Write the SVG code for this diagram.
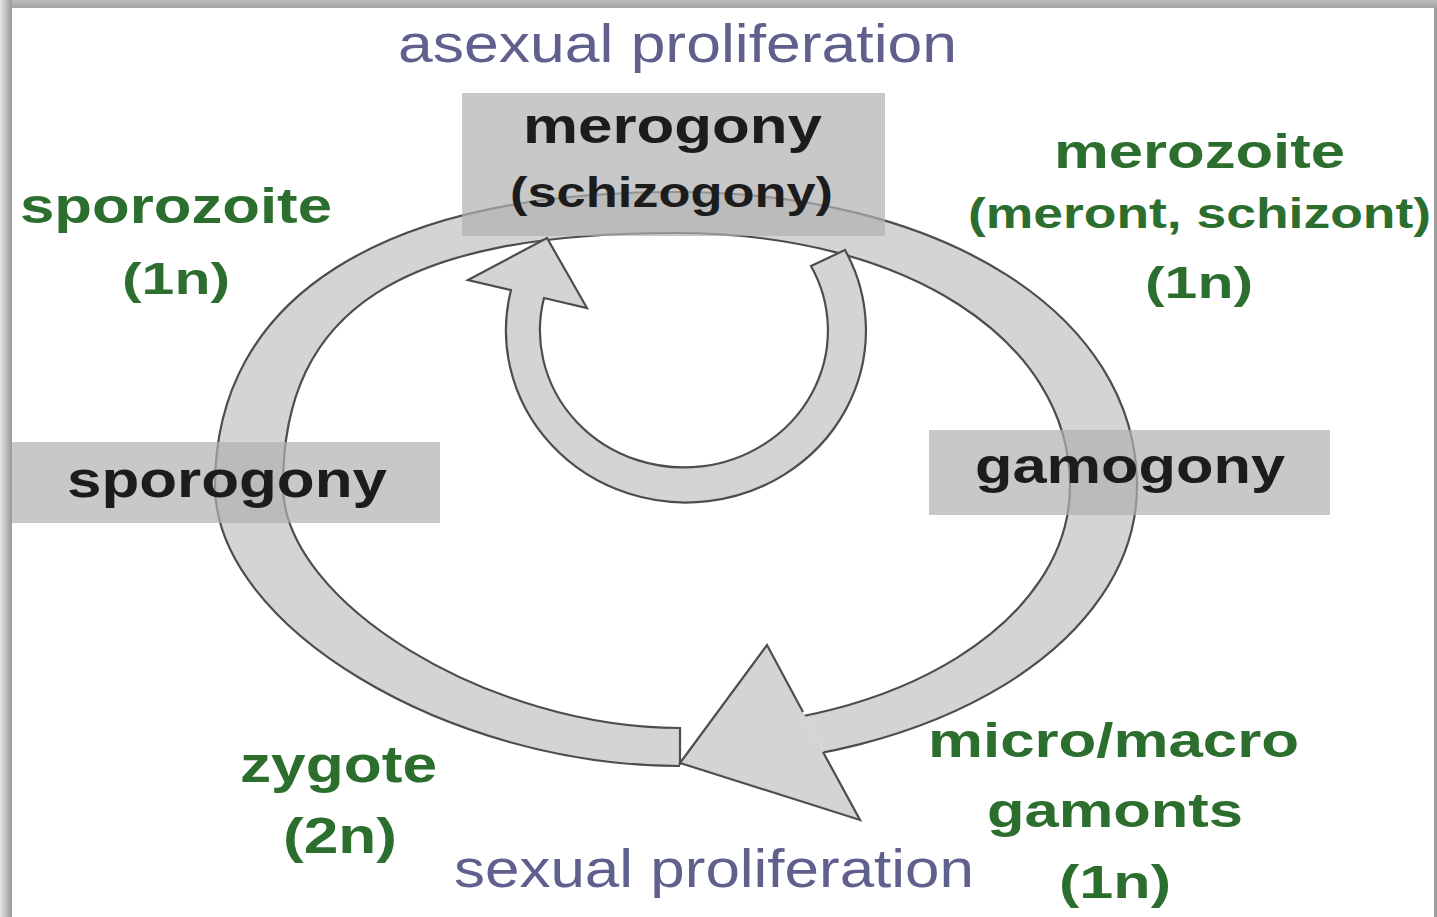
<svg xmlns="http://www.w3.org/2000/svg" width="1437" height="917" viewBox="0 0 1437 917">
<defs>
<style>
.band{fill:#d4d4d4;stroke:#4d4d4d;stroke-width:2.2;stroke-linejoin:miter}
.edge{fill:none;stroke:#4d4d4d;stroke-width:2.2;stroke-linejoin:miter}
.box{fill:#b0b0b0;fill-opacity:.7}
.t{font-family:"Liberation Sans",Arial,sans-serif}
.stage{font-weight:bold;fill:#1c1c1c}
.form{font-weight:bold;fill:#2c6e2e}
.prol{fill:#60608e}
</style>
<linearGradient id="gTop" x1="0" y1="0" x2="0" y2="1"><stop offset="0" stop-color="#bcbcbc"/><stop offset="1" stop-color="#a4a4a4"/></linearGradient>
<linearGradient id="gLeft" x1="0" y1="0" x2="1" y2="0"><stop offset="0" stop-color="#e6e6e6"/><stop offset="1" stop-color="#979797"/></linearGradient>
<clipPath id="cutRing"><path clip-rule="evenodd" d="M0,0H1437V917H0Z M680,680 L785.6,680 L849.4,800 L680,800 Z"/></clipPath>
</defs>

<g id="frame">
<rect x="0" y="0" width="1437" height="917" fill="#ffffff"/>
<rect x="0" y="0" width="1437" height="8" fill="url(#gTop)"/>
<rect x="0" y="0" width="12" height="917" fill="url(#gLeft)"/>
<rect x="1434" y="8" width="3" height="909" fill="#9e9e9e"/>
</g>

<g id="connectors">
<path id="cycle-ring" class="band" fill-rule="evenodd" clip-path="url(#cutRing)" d="M215,486 C215,298 381,192 676,192 C943,192 1137,315 1137,486 C1137,643 936,766 680,766 C447.5,766 215,626 215,486 Z M283,486 C283,309 401,233 676,233 C904.5,233 1070,339.3 1070,486 C1070,621.5 898.4,728 680,728 C489.4,728 283,602.2 283,486 Z"/>
<polygon points="767,645 680,763 860,820" fill="#d4d4d4"/>
<polyline class="edge" points="803,712 767,645 680,763 860,820 823,752"/>
<line class="edge" x1="680" y1="727" x2="680" y2="765"/>
<path id="merogony-loop" class="band" d="M468,280 L547,238 L587,308 L544,298 A144,137 0 1 0 811,266 L845,250 A180,172 0 1 1 511,290 Z"/>
</g>

<g id="merogony">
<rect class="box" x="462" y="93" width="423" height="143"/>
<text class="t stage" x="523" y="143" font-size="50" textLength="299" lengthAdjust="spacingAndGlyphs">merogony</text>
<text class="t stage" x="510" y="207" font-size="42" textLength="323" lengthAdjust="spacingAndGlyphs">(schizogony)</text>
</g>

<g id="sporogony">
<rect class="box" x="12" y="442" width="428" height="81"/>
<text class="t stage" x="67" y="497" font-size="52" textLength="320" lengthAdjust="spacingAndGlyphs">sporogony</text>
</g>

<g id="gamogony">
<rect class="box" x="929" y="430" width="401" height="85"/>
<text class="t stage" x="975" y="483" font-size="50" textLength="310" lengthAdjust="spacingAndGlyphs">gamogony</text>
</g>

<g id="sporozoite">
<text class="t form" x="20" y="223" font-size="50" textLength="312" lengthAdjust="spacingAndGlyphs">sporozoite</text>
<text class="t form" x="122" y="294" font-size="44" textLength="108" lengthAdjust="spacingAndGlyphs">(1n)</text>
</g>

<g id="merozoite">
<text class="t form" x="1054" y="168" font-size="49" textLength="291" lengthAdjust="spacingAndGlyphs">merozoite</text>
<text class="t form" x="968" y="228" font-size="42" textLength="463" lengthAdjust="spacingAndGlyphs">(meront, schizont)</text>
<text class="t form" x="1145" y="298" font-size="44" textLength="108" lengthAdjust="spacingAndGlyphs">(1n)</text>
</g>

<g id="gamonts">
<text class="t form" x="928" y="757" font-size="48" textLength="371" lengthAdjust="spacingAndGlyphs">micro/macro</text>
<text class="t form" x="987" y="827" font-size="48" textLength="256" lengthAdjust="spacingAndGlyphs">gamonts</text>
<text class="t form" x="1059" y="898" font-size="47" textLength="112" lengthAdjust="spacingAndGlyphs">(1n)</text>
</g>

<g id="zygote">
<text class="t form" x="240" y="782" font-size="52" textLength="197" lengthAdjust="spacingAndGlyphs">zygote</text>
<text class="t form" x="283" y="853" font-size="50" textLength="114" lengthAdjust="spacingAndGlyphs">(2n)</text>
</g>

<g id="asexual-proliferation">
<text class="t prol" x="398" y="62" font-size="54" textLength="559" lengthAdjust="spacingAndGlyphs">asexual proliferation</text>
</g>

<g id="sexual-proliferation">
<text class="t prol" x="454" y="887" font-size="53" textLength="520" lengthAdjust="spacingAndGlyphs">sexual proliferation</text>
</g>
</svg>
